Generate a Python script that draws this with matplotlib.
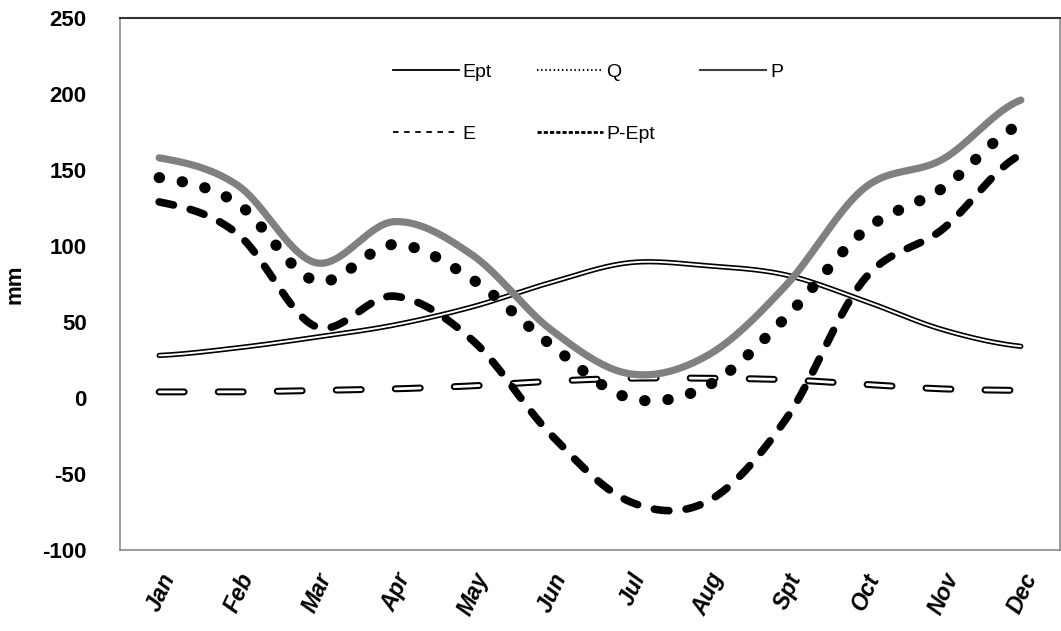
import numpy as np
import matplotlib
matplotlib.use('Agg')
import matplotlib.pyplot as plt
from matplotlib.lines import Line2D

plt.rcParams['font.family'] = ['Liberation Sans', 'DejaVu Sans']
plt.rcParams['lines.scale_dashes'] = False
plt.rcParams['axes.unicode_minus'] = False

months = ['Jan', 'Feb', 'Mar', 'Apr', 'May', 'Jun', 'Jul', 'Aug', 'Spt', 'Oct', 'Nov', 'Dec']
ept = [28, 33, 40, 48, 60, 76, 89, 87, 81, 64, 45, 34]
e = [4, 4, 5, 6, 8, 11, 13, 13, 12, 9, 6, 5]
q = [145, 128, 77, 101, 78, 35, 0, 8, 53, 110, 138, 180]
p = [158, 140, 89, 116, 94, 45, 16, 28, 74, 138, 157, 196]
p_ept = [129, 108, 47, 67, 38, -24, -68, -68, -14, 78, 111, 160]


def smooth(y, n=40):
    # catmull-rom curve through the points, like the excel smoothed line
    y = np.asarray(y, dtype=float)
    pts = np.concatenate([[y[0]], y, [y[-1]]])
    xs, ys = [], []
    t = np.linspace(0, 1, n, endpoint=False)
    for i in range(len(y) - 1):
        p0, p1, p2, p3 = pts[i], pts[i + 1], pts[i + 2], pts[i + 3]
        v = 0.5 * (2 * p1 + (-p0 + p2) * t + (2 * p0 - 5 * p1 + 4 * p2 - p3) * t ** 2
                   + (-p0 + 3 * p1 - 3 * p2 + p3) * t ** 3)
        xs.extend(i + t)
        ys.extend(v)
    xs.append(len(y) - 1)
    ys.append(y[-1])
    return np.array(xs), np.array(ys)


fig = plt.figure(figsize=(10.61, 6.31), dpi=100)
ax = fig.add_axes([120 / 1061, 1 - 550 / 631, 940 / 1061, 532 / 631])

# Ept: double line
x, y = smooth(ept)
ax.plot(x, y, color='black', lw=3.8, solid_capstyle='round', zorder=2)
ax.plot(x, y, color='white', lw=1.4, solid_capstyle='round', zorder=2)

# E: dashed double line
x, y = smooth(e)
ax.plot(x, y, color='black', lw=5, linestyle=(0, (18, 24.5)), dash_capstyle='round', zorder=2)
ax.plot(x, y, color='white', lw=2, linestyle=(0, (18, 24.5)), dash_capstyle='round', zorder=2)

# Q: round dots
x, y = smooth(q)
ax.plot(x, y, color='black', lw=8, linestyle=(0, (0.3, 16.5)), dash_capstyle='round', zorder=3)

# P: thick grey
x, y = smooth(p)
ax.plot(x, y, color='#808080', lw=5.2, solid_capstyle='round', zorder=4)

# P-Ept: thick dashes
x, y = smooth(p_ept)
ax.plot(x, y, color='black', lw=5.5, linestyle=(0, (10.5, 12.5)), dash_capstyle='round', zorder=3)

ax.set_xlim(-0.5, len(months) - 0.5)
ax.set_ylim(-100, 250)
ax.set_yticks(np.arange(-100, 251, 50))
ax.set_xticks(range(len(months)))
ax.set_xticklabels(months, rotation=65, ha='right', rotation_mode='anchor',
                   fontsize=16.5, fontweight='bold', fontstyle='italic')
for lab in ax.get_yticklabels():
    lab.set_fontsize(16)
    lab.set_fontweight('bold')
ax.tick_params(axis='both', length=0)
ax.tick_params(axis='y', pad=24)
ax.tick_params(axis='x', pad=14)
ax.set_ylabel('mm', fontsize=16, fontweight='bold', labelpad=12)

for side in ['left', 'right', 'bottom']:
    ax.spines[side].set_color('#8a8a8a')
    ax.spines[side].set_linewidth(1.2)
ax.spines['top'].set_color('#333333')
ax.spines['top'].set_linewidth(1.5)

handles = [
    Line2D([], [], color='black', lw=1.3),
    Line2D([], [], color='black', lw=1.3, linestyle=(0, (4, 4))),
    Line2D([], [], color='black', lw=1.5, linestyle=(0, (1, 2))),
    Line2D([], [], color='black', lw=2, linestyle=(0, (3, 1.5))),
    Line2D([], [], color='#404040', lw=1.5),
]
labels = ['Ept', 'E', 'Q', 'P-Ept', 'P']
ax.legend(handles, labels, ncol=3, frameon=False, fontsize=14,
          loc='upper left', bbox_to_anchor=(0.29, 0.915),
          handlelength=3.4, handletextpad=0.2, columnspacing=2.3,
          labelspacing=2.3, borderpad=0, borderaxespad=0)

fig.savefig('out.png', dpi=100)
